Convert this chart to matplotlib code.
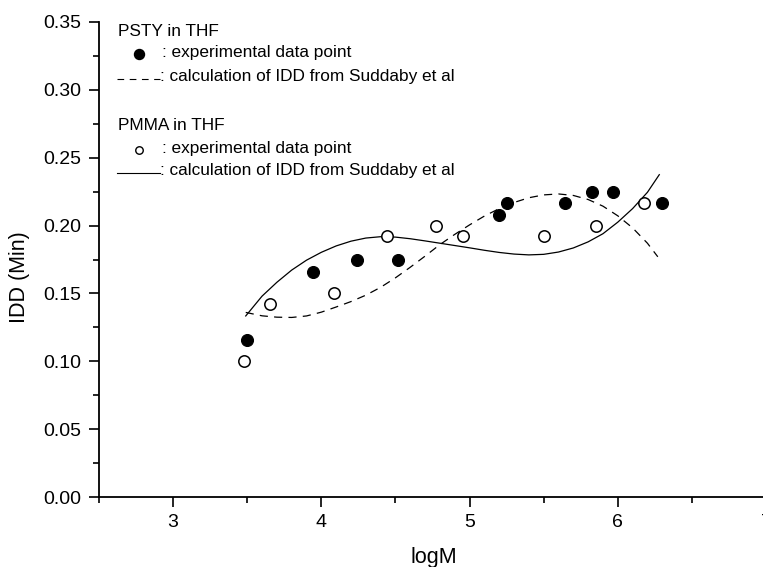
import matplotlib
matplotlib.use("Agg")
import matplotlib.pyplot as plt
from matplotlib.lines import Line2D
from matplotlib.ticker import MultipleLocator, FormatStrFormatter

plt.rcParams['font.family'] = ['Liberation Sans', 'DejaVu Sans']

# PSTY in THF: experimental points (filled)
psty_x = [3.50, 3.945, 4.24, 4.52, 5.20, 5.255, 5.645, 5.825, 5.965, 6.295]
psty_y = [0.116, 0.166, 0.175, 0.175, 0.208, 0.217, 0.217, 0.225, 0.225, 0.217]

# PMMA in THF: experimental points (open)
pmma_x = [3.475, 3.655, 4.085, 4.445, 4.775, 4.955, 5.50, 5.85, 6.175]
pmma_y = [0.100, 0.142, 0.150, 0.192, 0.200, 0.192, 0.192, 0.200, 0.217]

# PSTY calculation (dashed curve)
psty_calc_x = [3.49, 3.6, 3.7, 3.8, 3.9, 4.0, 4.1, 4.2, 4.3, 4.4, 4.5, 4.6, 4.7,
               4.8, 4.9, 5.0, 5.1, 5.2, 5.3, 5.4, 5.5, 5.6, 5.7, 5.8, 5.9, 6.0,
               6.1, 6.2, 6.27]
psty_calc_y = [0.1360, 0.1335, 0.1325, 0.1323, 0.1334, 0.1362, 0.1400, 0.1440,
               0.1487, 0.1545, 0.1615, 0.1693, 0.1775, 0.1860, 0.1935, 0.2005,
               0.2070, 0.2125, 0.2170, 0.2205, 0.2226, 0.2233, 0.2222, 0.2192,
               0.2143, 0.2072, 0.1983, 0.1870, 0.1770]

# PMMA calculation (solid curve)
pmma_calc_x = [3.49, 3.6, 3.7, 3.8, 3.9, 4.0, 4.1, 4.2, 4.3, 4.4, 4.5, 4.6, 4.7,
               4.8, 4.9, 5.0, 5.1, 5.2, 5.3, 5.4, 5.5, 5.6, 5.7, 5.8, 5.9, 6.0,
               6.1, 6.2, 6.28]
pmma_calc_y = [0.1334, 0.1480, 0.1582, 0.1672, 0.1745, 0.1803, 0.1850, 0.1885,
               0.1908, 0.1918, 0.1915, 0.1903, 0.1887, 0.1870, 0.1853, 0.1836,
               0.1818, 0.1802, 0.1790, 0.1784, 0.1788, 0.1805, 0.1835, 0.1880,
               0.1940, 0.2025, 0.2125, 0.2245, 0.2375]

W, H = 763, 567
fig = plt.figure(figsize=(W / 100, H / 100), dpi=100)
left_px, right_px, top_px, bottom_px = 99, 766, 22, 497
ax = fig.add_axes([left_px / W, 1 - bottom_px / H,
                   (right_px - left_px) / W, (bottom_px - top_px) / H])

ax.plot(psty_calc_x, psty_calc_y, color='black', lw=0.9, ls=(0, (6.5, 5)))
ax.plot(pmma_calc_x, pmma_calc_y, color='black', lw=0.9, ls='-')
ax.plot(psty_x, psty_y, 'o', color='black', ms=8.6, mec='black', mew=0.8)
ax.plot(pmma_x, pmma_y, 'o', mfc='white', mec='black', ms=8.2, mew=1.1)

ax.set_xlim(2.5, 7)
ax.set_ylim(0, 0.35)
ax.xaxis.set_major_locator(MultipleLocator(1))
ax.xaxis.set_minor_locator(MultipleLocator(0.5))
ax.yaxis.set_major_locator(MultipleLocator(0.05))
ax.yaxis.set_minor_locator(MultipleLocator(0.025))
ax.yaxis.set_major_formatter(FormatStrFormatter('%.2f'))
ax.xaxis.set_major_formatter(FormatStrFormatter('%d'))

for s in ['top', 'right']:
    ax.spines[s].set_visible(False)
for s in ['left', 'bottom']:
    ax.spines[s].set_linewidth(1.3)
ax.tick_params(which='major', direction='out', length=7.5, width=1.2,
               labelsize=14, pad=5)
ax.tick_params(which='minor', direction='out', length=4.3, width=1.2)
ax.tick_params(axis='x', which='major', pad=5)

ax.set_xlabel('logM', fontsize=15.5)
ax.set_ylabel('IDD (Min)', fontsize=15.5)
ax.xaxis.set_label_coords((434 - left_px) / (right_px - left_px),
                          -(557 - bottom_px) / (bottom_px - top_px))
ax.yaxis.set_label_coords((20 - left_px) / (right_px - left_px),
                          (bottom_px - 277) / (bottom_px - top_px))
ax.xaxis.label.set_va('center')
ax.yaxis.label.set_va('center')


def fx(px):
    return px / W


def fy(py):
    return 1 - py / H


fs = 12.4
fig.text(fx(118), fy(31), 'PSTY in THF', fontsize=fs, va='center', ha='left')
fig.add_artist(Line2D([fx(139.3)], [fy(54)], marker='o', color='black',
                      ms=7.2, transform=fig.transFigure))
fig.text(fx(162), fy(53), ': experimental data point', fontsize=fs,
         va='center', ha='left')
fig.add_artist(Line2D([fx(117), fx(160)], [fy(78.5), fy(78.5)], color='black',
                      lw=0.8, ls=(0, (6, 5)), transform=fig.transFigure))
fig.text(fx(160.5), fy(77), ': calculation of IDD from Suddaby et al', fontsize=fs,
         va='center', ha='left')
fig.text(fx(118), fy(126), 'PMMA in THF', fontsize=fs, va='center', ha='left')
fig.add_artist(Line2D([fx(139.3)], [fy(150)], marker='o', mfc='white', mec='black',
                      mew=1.0, ms=5.4, transform=fig.transFigure))
fig.text(fx(162), fy(148), ': experimental data point', fontsize=fs,
         va='center', ha='left')
fig.add_artist(Line2D([fx(117), fx(160)], [fy(172.5), fy(172.5)], color='black',
                      lw=0.8, transform=fig.transFigure))
fig.text(fx(160.5), fy(171), ': calculation of IDD from Suddaby et al', fontsize=fs,
         va='center', ha='left')

fig.savefig('out.png', dpi=100)
